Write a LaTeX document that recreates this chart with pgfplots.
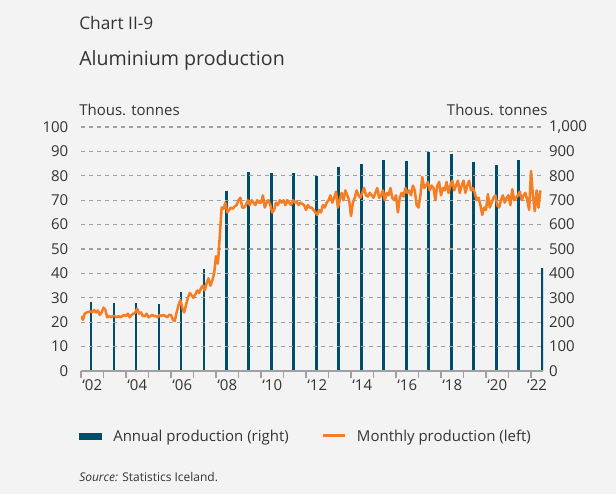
\documentclass[border=0pt]{standalone}
\usepackage{fontspec}
\setmainfont{Open Sans}
\usepackage{pgfplots}
\usepackage{pgfplotstable}
\pgfplotsset{compat=1.18}

\definecolor{bg}{RGB}{243,243,243}
\definecolor{txt}{RGB}{51,51,51}
\definecolor{barblue}{RGB}{0,78,108}
\definecolor{lineorange}{RGB}{245,125,35}
\definecolor{gridgrey}{RGB}{160,160,160}

% monthly production, thous. tonnes (left axis)
\pgfplotstableread[row sep=\\]{
y m v \\
2002 1 22.5 \\ 2002 2 21 \\ 2002 3 23.5 \\ 2002 4 24 \\ 2002 5 24.2 \\ 2002 6 24.5 \\ 2002 7 24 \\ 2002 8 25 \\ 2002 9 24 \\ 2002 10 24.8 \\ 2002 11 23 \\ 2002 12 24 \\
2003 1 26 \\ 2003 2 25 \\ 2003 3 22 \\ 2003 4 22.5 \\ 2003 5 22 \\ 2003 6 22.5 \\ 2003 7 22.5 \\ 2003 8 22 \\ 2003 9 22.5 \\ 2003 10 22 \\ 2003 11 22.5 \\ 2003 12 23 \\
2004 1 22.5 \\ 2004 2 23.5 \\ 2004 3 22 \\ 2004 4 23 \\ 2004 5 23.5 \\ 2004 6 24 \\ 2004 7 25.5 \\ 2004 8 23.5 \\ 2004 9 24 \\ 2004 10 22.5 \\ 2004 11 22.5 \\ 2004 12 23.5 \\
2005 1 22 \\ 2005 2 22.5 \\ 2005 3 23 \\ 2005 4 22.5 \\ 2005 5 22.5 \\ 2005 6 22 \\ 2005 7 23 \\ 2005 8 22.5 \\ 2005 9 23 \\ 2005 10 22.5 \\ 2005 11 22 \\ 2005 12 23 \\
2006 1 23 \\ 2006 2 21 \\ 2006 3 20.5 \\ 2006 4 24 \\ 2006 5 27 \\ 2006 6 29 \\ 2006 7 26 \\ 2006 8 24 \\ 2006 9 27 \\ 2006 10 30 \\ 2006 11 32 \\ 2006 12 31 \\
2007 1 30 \\ 2007 2 31.5 \\ 2007 3 33 \\ 2007 4 32 \\ 2007 5 34 \\ 2007 6 35 \\ 2007 7 33 \\ 2007 8 36 \\ 2007 9 38 \\ 2007 10 35 \\ 2007 11 37 \\ 2007 12 40 \\
2008 1 47 \\ 2008 2 44 \\ 2008 3 55 \\ 2008 4 67 \\ 2008 5 66.5 \\ 2008 6 69 \\ 2008 7 65 \\ 2008 8 66 \\ 2008 9 67 \\ 2008 10 66.5 \\ 2008 11 67.5 \\ 2008 12 68 \\
2009 1 70 \\ 2009 2 71 \\ 2009 3 67 \\ 2009 4 67 \\ 2009 5 68 \\ 2009 6 70 \\ 2009 7 68 \\ 2009 8 70 \\ 2009 9 69 \\ 2009 10 68 \\ 2009 11 70 \\ 2009 12 69 \\
2010 1 69 \\ 2010 2 72 \\ 2010 3 67 \\ 2010 4 69 \\ 2010 5 70 \\ 2010 6 68 \\ 2010 7 65 \\ 2010 8 66 \\ 2010 9 69 \\ 2010 10 68 \\ 2010 11 70 \\ 2010 12 69 \\
2011 1 70 \\ 2011 2 68 \\ 2011 3 70 \\ 2011 4 69 \\ 2011 5 68 \\ 2011 6 70 \\ 2011 7 69 \\ 2011 8 69.5 \\ 2011 9 68 \\ 2011 10 69 \\ 2011 11 68.5 \\ 2011 12 68 \\
2012 1 66 \\ 2012 2 68 \\ 2012 3 67 \\ 2012 4 67 \\ 2012 5 66 \\ 2012 6 65 \\ 2012 7 64 \\ 2012 8 66 \\ 2012 9 65 \\ 2012 10 68 \\ 2012 11 67 \\ 2012 12 69 \\
2013 1 70 \\ 2013 2 72 \\ 2013 3 69 \\ 2013 4 71 \\ 2013 5 73.5 \\ 2013 6 67 \\ 2013 7 70 \\ 2013 8 73 \\ 2013 9 70 \\ 2013 10 74 \\ 2013 11 72 \\ 2013 12 70 \\
2014 1 63.5 \\ 2014 2 69 \\ 2014 3 71 \\ 2014 4 74 \\ 2014 5 72 \\ 2014 6 71 \\ 2014 7 73 \\ 2014 8 75 \\ 2014 9 72 \\ 2014 10 71.5 \\ 2014 11 73 \\ 2014 12 72 \\
2015 1 71 \\ 2015 2 73 \\ 2015 3 75 \\ 2015 4 71 \\ 2015 5 72 \\ 2015 6 74 \\ 2015 7 70 \\ 2015 8 73 \\ 2015 9 72 \\ 2015 10 75 \\ 2015 11 71 \\ 2015 12 70 \\
2016 1 72 \\ 2016 2 65 \\ 2016 3 71 \\ 2016 4 73 \\ 2016 5 71.5 \\ 2016 6 75 \\ 2016 7 73 \\ 2016 8 74 \\ 2016 9 72 \\ 2016 10 76 \\ 2016 11 74 \\ 2016 12 68 \\
2017 1 67 \\ 2017 2 72 \\ 2017 3 79.5 \\ 2017 4 75 \\ 2017 5 76 \\ 2017 6 77.5 \\ 2017 7 74 \\ 2017 8 76 \\ 2017 9 75 \\ 2017 10 70 \\ 2017 11 76 \\ 2017 12 77.5 \\
2018 1 72 \\ 2018 2 75 \\ 2018 3 74 \\ 2018 4 77.5 \\ 2018 5 73 \\ 2018 6 76 \\ 2018 7 78 \\ 2018 8 74 \\ 2018 9 76 \\ 2018 10 78 \\ 2018 11 73 \\ 2018 12 76 \\
2019 1 78 \\ 2019 2 73 \\ 2019 3 76 \\ 2019 4 78 \\ 2019 5 74 \\ 2019 6 75 \\ 2019 7 73 \\ 2019 8 70 \\ 2019 9 71 \\ 2019 10 68 \\ 2019 11 64 \\ 2019 12 67 \\
2020 1 66 \\ 2020 2 72.5 \\ 2020 3 67 \\ 2020 4 69 \\ 2020 5 71 \\ 2020 6 72 \\ 2020 7 68 \\ 2020 8 67 \\ 2020 9 70 \\ 2020 10 72 \\ 2020 11 69 \\ 2020 12 71 \\
2021 1 72 \\ 2021 2 68 \\ 2021 3 74.5 \\ 2021 4 70 \\ 2021 5 71 \\ 2021 6 72 \\ 2021 7 73.5 \\ 2021 8 70 \\ 2021 9 72 \\ 2021 10 73 \\ 2021 11 70 \\ 2021 12 66 \\
2022 1 82 \\ 2022 2 72 \\ 2022 3 65.5 \\ 2022 4 74 \\ 2022 5 67 \\ 2022 6 74 \\
}\monthly

% annual production, thous. tonnes (right axis)
\pgfplotstableread{
x v
2002.45 283
2003.47 279
2004.45 279
2005.47 275
2006.45 324
2007.47 418
2008.47 739
2009.45 816
2010.47 811
2011.45 811
2012.47 799
2013.45 836
2014.47 848
2015.45 863
2016.47 861
2017.45 898
2018.47 889
2019.45 857
2020.47 843
2021.45 863
2022.52 422
}\annual

\pgfplotsset{
  base/.style={
    scale only axis, width=346.5pt, height=183pt,
    at={(60.75pt,-278.25pt)}, anchor=south west,
    xmin=2002, xmax=2022.533, ymin=0,
    tick label style={font=\fontsize{11.25}{13}\selectfont, text=txt},
    /pgf/number format/assume math mode=true,
    /pgf/number format/1000 sep={,},
  },
}

\begin{document}
\begin{tikzpicture}
\useasboundingbox (0pt,0pt) rectangle (462pt,-370.5pt);
\clip (0pt,0pt) rectangle (462pt,-370.5pt);
\fill[bg] (0pt,0pt) rectangle (462pt,-370.5pt);

% right axis: annual bars
\begin{axis}[base, ymax=1000,
  hide x axis,
  axis y line*=right, y axis line style={draw=none},
  ytick={0,100,...,1000}, ytick style={draw=none},
  yticklabel style={xshift=1pt}]
  \addplot[ycomb, draw=barblue, line width=1.9pt] table[x=x, y=v] {\annual};
\end{axis}

% left axis: monthly line
\begin{axis}[base, ymax=100,
  axis x line*=bottom, axis y line*=left,
  x axis line style={draw=gridgrey, line width=0.8pt, -},
  y axis line style={draw=none},
  ytick={0,10,...,100}, ytick style={draw=none},
  ymajorgrids, grid style={draw=gridgrey, line width=0.8pt, dash pattern=on 3pt off 3pt},
  xtick={2002,2003,...,2022}, xticklabels={},
  tick align=outside, xtick style={draw=gridgrey, line width=0.8pt},
  major tick length=5pt,
  extra x ticks={2002.5,2004.5,2006.5,2008.5,2010.5,2012.5,2014.5,2016.5,2018.5,2020.5,2022.27},
  extra x tick labels={‘02,‘04,‘06,‘08,‘10,‘12,‘14,‘16,‘18,‘20,‘22},
  extra x tick style={major tick length=0pt, xticklabel style={yshift=-3pt}},
  yticklabel style={xshift=-1pt}]
  \addplot[draw=lineorange, line width=1.9pt, line join=round]
    table[x expr=\thisrow{y}+(\thisrow{m}-1)/12, y=v] {\monthly};
\end{axis}

\begin{scope}[x=0.75pt, y=-0.75pt, every node/.style={inner sep=0pt, text=txt}]
  \node[anchor=base west, font=\fontsize{13}{15}\selectfont] at (79,29) {Chart II-9};
  \node[anchor=base west, font=\fontsize{14.7}{17}\selectfont] at (79,65) {Aluminium production};
  \node[anchor=base west, font=\fontsize{11.25}{13}\selectfont] at (79,115.7) {Thous. tonnes};
  \node[anchor=base east, font=\fontsize{11.25}{13}\selectfont] at (547.7,115.7) {Thous. tonnes};
  \fill[barblue] (79,432.7) rectangle (101.7,440);
  \node[anchor=base west, font=\fontsize{11.25}{13}\selectfont] at (113,441.7) {Annual production (right)};
  \draw[lineorange, line width=2pt] (323,435.5) -- (345,435.5);
  \node[anchor=base west, font=\fontsize{11.25}{13}\selectfont] at (356.7,441.7) {Monthly production (left)};
  \node[anchor=base west, font=\fontsize{9}{11}\selectfont] at (79,481.7) {\textit{Source:} Statistics Iceland.};
\end{scope}
\end{tikzpicture}
\end{document}
